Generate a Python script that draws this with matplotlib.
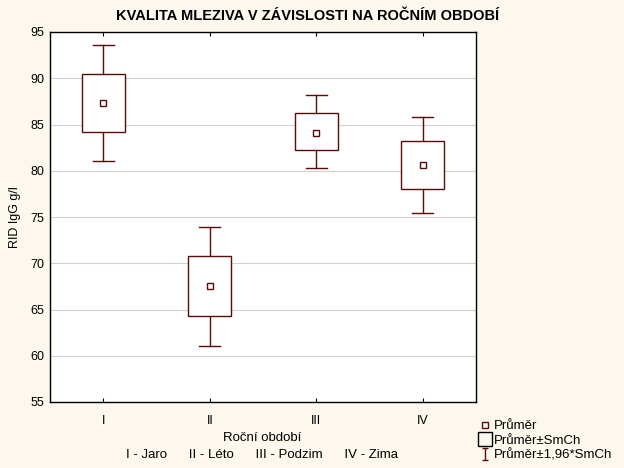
import matplotlib
matplotlib.use("Agg")
import matplotlib.pyplot as plt
from matplotlib.lines import Line2D
from matplotlib.patches import Rectangle
from matplotlib.path import Path
from matplotlib.markers import MarkerStyle
from matplotlib import font_manager

categories = ["I", "II", "III", "IV"]
means = [87.3, 67.5, 84.1, 80.6]
box_low = [84.2, 64.3, 82.2, 78.0]
box_high = [90.5, 70.8, 86.2, 83.2]
whisk_low = [81.1, 61.1, 80.3, 75.4]
whisk_high = [93.6, 73.9, 88.2, 85.8]
yticks = [55, 60, 65, 70, 75, 80, 85, 90, 95]

col = "#5c0a0a"
bg = "#fdf8ee"

names = {f.name for f in font_manager.fontManager.ttflist}
base = "Liberation Sans"
narrow = "Liberation Sans Narrow" if "Liberation Sans Narrow" in names else base
plt.rcParams['font.family'] = [base, 'DejaVu Sans']

fig = plt.figure(figsize=(6.24, 4.68), dpi=100, facecolor=bg)
ax = fig.add_axes([50/624, 1-402/468, 426/624, 370/468])
ax.set_facecolor("white")

x = list(range(1, len(categories) + 1))
bw = 0.40
cw = 0.20
for xi, m, bl, bh, wl, wh in zip(x, means, box_low, box_high, whisk_low, whisk_high):
    ax.plot([xi, xi], [bh, wh], color=col, lw=1, zorder=3)
    ax.plot([xi, xi], [wl, bl], color=col, lw=1, zorder=3)
    ax.plot([xi - cw/2, xi + cw/2], [wh, wh], color=col, lw=1, zorder=3)
    ax.plot([xi - cw/2, xi + cw/2], [wl, wl], color=col, lw=1, zorder=3)
    ax.add_patch(Rectangle((xi - bw/2, bl), bw, bh - bl, facecolor="white",
                           edgecolor=col, lw=1, zorder=3))
    ax.plot([xi], [m], marker='s', ms=4.5, mfc='none', mec=col, mew=1, zorder=4)

ax.set_xlim(0.5, 4.5)
ax.set_ylim(55, 95)
ax.set_yticks(yticks)
ax.set_xticks(x)
ax.set_xticklabels(categories)
ax.grid(axis='y', color="#d0d0d0", lw=0.8, zorder=0)
ax.set_axisbelow(True)
ax.tick_params(axis='x', direction='in', top=True, length=3, pad=9, labelsize=9, colors='black')
ax.tick_params(axis='y', length=0, pad=4, labelsize=9)
for s in ax.spines.values():
    s.set_linewidth(1.0)
    s.set_color('black')

ax.set_ylabel("RID IgG g/l", fontsize=9, labelpad=7)
fig.text(262/624, 1-438/468, "Roční období", ha='center', va='center', fontsize=9.5)
fig.text(262/624, 1-455/468, "I - Jaro      II - Léto      III - Podzim      IV - Zima",
         ha='center', va='center', fontsize=9.5)
fig.text(308/624, 1-16/468, "KVALITA MLEZIVA V ZÁVISLOSTI NA ROČNÍM OBDOBÍ",
         ha='center', va='center', fontsize=10.5, fontweight='bold',
         family=[narrow, 'DejaVu Sans'])

ibeam = Path([(-0.5, 1), (0.5, 1), (0, 1), (0, -1), (-0.5, -1), (0.5, -1)],
             [Path.MOVETO, Path.LINETO, Path.MOVETO, Path.LINETO, Path.MOVETO, Path.LINETO])
handles = [
    Line2D([], [], ls='none', marker='s', ms=4.5, mfc='none', mec=col, mew=1),
    Line2D([], [], ls='none', marker='s', ms=9.5, mfc='none', mec='black', mew=1),
    Line2D([], [], ls='none', marker=MarkerStyle(ibeam), ms=9, mfc='none', mec=col, mew=1),
]
labels = ["Průměr", "Průměr±SmCh", "Průměr±1,96*SmCh"]
fig.legend(handles, labels, loc='upper left', bbox_to_anchor=(479/624, 1-420/468),
           frameon=False, fontsize=9.5, handlelength=0.9, handletextpad=0.25,
           labelspacing=0.17, borderpad=0, borderaxespad=0)

fig.savefig("out.png", dpi=100, facecolor=bg)
